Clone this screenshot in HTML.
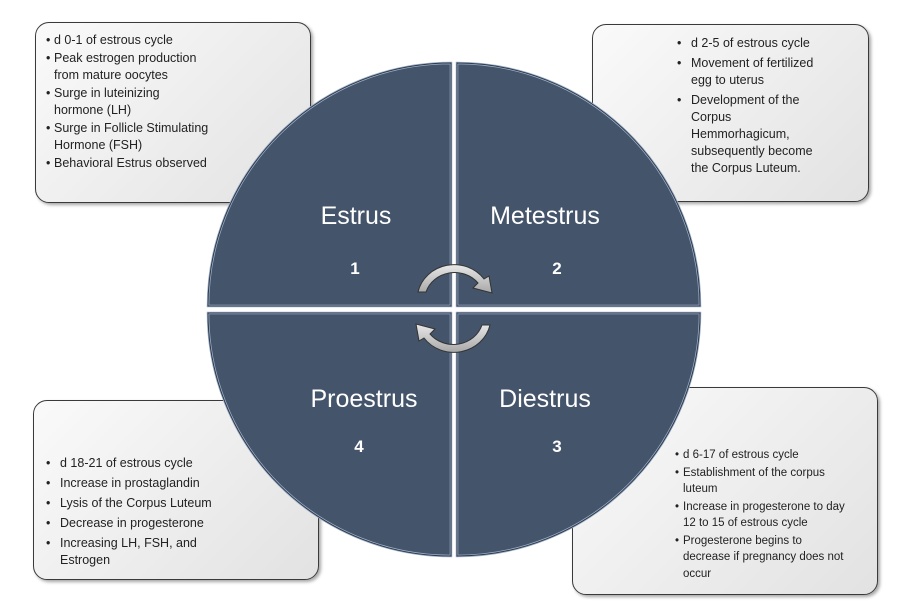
<!DOCTYPE html>
<html><head><meta charset="utf-8"><style>
body{margin:0;background:#fff;width:909px;height:603px;position:relative;overflow:hidden;font-family:"Liberation Sans",sans-serif;}
.box{position:absolute;background:linear-gradient(135deg,#fafafa,#e2e2e2);border:1.5px solid #3a3a3a;border-radius:14px;box-shadow:2px 2px 3px rgba(0,0,0,.35);font-size:12px;color:#222;line-height:17px;box-sizing:border-box;}
.box ul{margin:0;padding:0;list-style:none;white-space:nowrap;}
.box li{position:relative;padding-left:8px;margin-bottom:1px;}
.box li:before{content:"•";position:absolute;left:0;}
.b2 li,.b3 li{padding-left:16px;margin-bottom:3px;}
.b2 li:before,.b3 li:before{left:2px;}
</style></head><body>
<div class="box" style="left:35px;top:22px;width:276px;height:181px;padding:9px 0 0 10px;font-size:12.5px;"><ul>
<li>d 0-1 of estrous cycle</li><li>Peak estrogen production<br>from mature oocytes</li><li>Surge in luteinizing<br>hormone (LH)</li><li>Surge in Follicle Stimulating<br>Hormone (FSH)</li><li>Behavioral Estrus observed</li></ul></div>
<div class="box b2" style="left:592px;top:24px;width:277px;height:178px;padding:10px 0 0 82px;font-size:12.5px;line-height:17px;"><ul>
<li>d 2-5 of estrous cycle</li><li>Movement of fertilized<br>egg to uterus</li><li>Development of the<br>Corpus<br>Hemmorhagicum,<br>subsequently become<br>the Corpus Luteum.</li></ul></div>
<div class="box b3" style="left:33px;top:400px;width:286px;height:180px;padding:54px 0 0 10px;font-size:12.5px;line-height:17px;"><ul>
<li>d 18-21 of estrous cycle</li><li>Increase in prostaglandin</li><li>Lysis of the Corpus Luteum</li><li>Decrease in progesterone</li><li>Increasing LH, FSH, and<br>Estrogen</li></ul></div>
<div class="box" style="left:572px;top:387px;width:306px;height:208px;padding:59px 0 0 102px;font-size:11.5px;line-height:16.5px;"><ul>
<li>d 6-17 of estrous cycle</li><li>Establishment of the corpus<br>luteum</li><li>Increase in progesterone to day<br>12 to 15 of estrous cycle</li><li>Progesterone begins to<br>decrease if pregnancy does not<br>occur</li></ul></div>
<svg width="909" height="603" style="position:absolute;left:0;top:0">
<defs><linearGradient id="ag" x1="0" y1="0" x2="0" y2="1"><stop offset="0" stop-color="#e8e8e8"/><stop offset="1" stop-color="#a8a8a8"/></linearGradient></defs>
<g fill="#44546a" stroke="#9fb0c8" stroke-width="2.5">
<path d="M451,306 L451,63 A243,243 0 0 0 208,306 Z"/>
<path d="M457,306 L457,63 A243,243 0 0 1 700,306 Z"/>
<path d="M451,313 L451,556 A243,243 0 0 1 208,313 Z"/>
<path d="M457,313 L457,556 A243,243 0 0 0 700,313 Z"/>
</g>
<g fill="none" stroke="#2d3a4c" stroke-width="1">
<path d="M451,306 L451,63 A243,243 0 0 0 208,306 Z"/>
<path d="M457,306 L457,63 A243,243 0 0 1 700,306 Z"/>
<path d="M451,313 L451,556 A243,243 0 0 1 208,313 Z"/>
<path d="M457,313 L457,556 A243,243 0 0 0 700,313 Z"/>
</g>
<g fill="#fff" font-family="Liberation Sans, sans-serif">
<text x="356" y="224" font-size="25" text-anchor="middle">Estrus</text>
<text x="545" y="224" font-size="25" text-anchor="middle">Metestrus</text>
<text x="364" y="407" font-size="25" text-anchor="middle">Proestrus</text>
<text x="545" y="407" font-size="25" text-anchor="middle">Diestrus</text>
<g font-size="17" font-weight="bold" text-anchor="middle">
<text x="355" y="274">1</text><text x="557" y="274">2</text><text x="557" y="452">3</text><text x="359" y="452">4</text></g>
</g>
<g fill="url(#ag)" stroke="#333" stroke-width="1">
<path d="M418,292 A37,35 0 0 1 484,279 L489,276 L492,293 L473,288 L478,283 A30,28 0 0 0 426,292 Z"/>
<path d="M490,325 A37,35 0 0 1 424,338 L419,341 L416,324 L435,329 L430,334 A30,28 0 0 0 482,325 Z"/>
</g>
</svg>
</body></html>
